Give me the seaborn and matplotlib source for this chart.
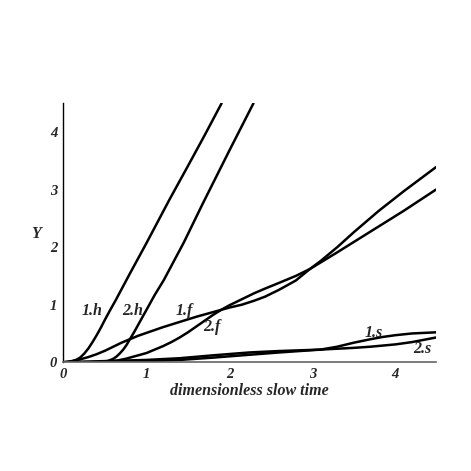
import matplotlib
matplotlib.use("Agg")
import matplotlib.pyplot as plt
import seaborn as sns
import pandas as pd

# ---- data ----
h1_x = [0, 0.05, 0.1, 0.15, 0.2, 0.25, 0.3, 0.35, 0.4, 0.45, 0.5, 0.56, 0.63, 0.8, 1.0, 1.275, 1.5, 1.7, 1.906]
h1_y = [0, 0.003, 0.015, 0.04, 0.08, 0.15, 0.24, 0.35, 0.47, 0.6, 0.74, 0.9, 1.08, 1.54, 2.07, 2.82, 3.41, 3.94, 4.5]

h2_x = [0, 0.45, 0.5, 0.55, 0.6, 0.64, 0.68, 0.72, 0.76, 0.8, 0.85, 0.9, 0.95, 1.0, 1.1, 1.21, 1.45, 1.68, 2.0, 2.29]
h2_y = [0, 0, 0.01, 0.03, 0.06, 0.1, 0.155, 0.22, 0.3, 0.40, 0.52, 0.65, 0.78, 0.91, 1.17, 1.43, 2.08, 2.76, 3.68, 4.5]

f1_x = [0, 0.1, 0.2, 0.3, 0.4, 0.5, 0.6, 0.7, 0.8, 0.9, 1.0, 1.2, 1.4, 1.6, 1.8, 1.9, 2.0, 2.15,
        2.3, 2.43, 2.6, 2.8, 2.97, 3.1, 3.3, 3.5, 3.8, 4.1, 4.49]
f1_y = [0, 0.02, 0.05, 0.09, 0.14, 0.2, 0.27, 0.34, 0.40, 0.46, 0.51, 0.61, 0.70, 0.79, 0.87, 0.91, 0.95, 1.00,
        1.07, 1.14, 1.26, 1.42, 1.62, 1.76, 2.0, 2.26, 2.63, 2.97, 3.39]

f2_x = [0, 0.45, 0.55, 0.65, 0.75, 0.85, 1.0, 1.1, 1.2, 1.3, 1.4, 1.5, 1.6, 1.7, 1.8, 1.9, 2.0, 2.1,
        2.2, 2.3, 2.43, 2.6, 2.8, 2.97, 3.3, 3.7, 4.1, 4.49]
f2_y = [0, 0, 0.01, 0.03, 0.06, 0.1, 0.16, 0.22, 0.28, 0.35, 0.43, 0.52, 0.62, 0.72, 0.82, 0.91, 0.99, 1.06,
        1.13, 1.20, 1.28, 1.38, 1.50, 1.62, 1.91, 2.27, 2.63, 3.0]

s1_x = [0, 0.5, 1.0, 1.4, 1.8, 2.24, 2.6, 2.9, 3.1, 3.3, 3.5, 3.7, 3.85, 4.0, 4.2, 4.49]
s1_y = [0, 0.005, 0.02, 0.04, 0.08, 0.13, 0.17, 0.2, 0.22, 0.27, 0.34, 0.40, 0.44, 0.47, 0.50, 0.52]

s2_x = [0, 0.5, 1.0, 1.4, 1.8, 2.24, 2.6, 2.9, 3.1, 3.3, 3.5, 3.7, 3.85, 4.0, 4.2, 4.49]
s2_y = [0, 0.02, 0.04, 0.07, 0.12, 0.17, 0.195, 0.21, 0.22, 0.235, 0.25, 0.27, 0.29, 0.31, 0.35, 0.43]

curve_names = ["1.h", "2.h", "1.f", "2.f", "1.s", "2.s"]
label_x = [0.35, 0.83, 1.46, 1.79, 3.74, 4.33]
label_y = [0.89, 0.89, 0.89, 0.61, 0.51, 0.23]

x_ticks = [0, 1, 2, 3, 4]
y_ticks = [0, 1, 2, 3, 4]

frames = []
for name, xs, ys in zip(curve_names,
                        [h1_x, h2_x, f1_x, f2_x, s1_x, s2_x],
                        [h1_y, h2_y, f1_y, f2_y, s1_y, s2_y]):
    frames.append(pd.DataFrame({"t": xs, "Y": ys, "curve": name}))
df = pd.concat(frames, ignore_index=True)

sns.set_style("white")
plt.rcParams["font.family"] = ["Liberation Serif", "DejaVu Serif"]

fig = plt.figure(figsize=(4.71, 4.71), dpi=100)
ax = fig.add_axes([0.1348, 0.2309, 0.7909, 0.5499])

for name in curve_names:
    sub = df[df["curve"] == name]
    sns.lineplot(data=sub, x="t", y="Y", ax=ax, color="black", lw=1.8,
                 sort=False, estimator=None, legend=False)

font = dict(fontweight="bold", fontstyle="italic", fontsize=11.5)
tick_font = dict(fontweight="bold", fontstyle="italic", fontsize=10.5)
for name, lx, ly in zip(curve_names, label_x, label_y):
    ax.text(lx, ly, name, ha="center", va="center", **font)

ax.set_xlim(0, 4.49)
ax.set_ylim(0, 4.5)
ax.set_xticks(x_ticks)
ax.set_yticks(y_ticks)
ax.set_xticklabels([str(v) for v in x_ticks], **tick_font)
ax.set_yticklabels([str(v) for v in y_ticks], **tick_font)
ax.tick_params(axis="both", direction="out", length=2, width=0.6, color="#777777", pad=2.5)

for side in ["top", "right"]:
    ax.spines[side].set_visible(False)
ax.spines["left"].set_color("black")
ax.spines["left"].set_linewidth(1.0)
ax.spines["bottom"].set_color("#666666")
ax.spines["bottom"].set_linewidth(1.2)

ax.set_xlabel("dimensionless slow time", **font)
ax.xaxis.set_label_coords(0.50, -0.112)
ax.xaxis.label.set_va("center")
ax.set_ylabel("Y", rotation=0, **font)
ax.yaxis.set_label_coords(-0.074, 0.495)
ax.yaxis.label.set_va("center")
ax.yaxis.label.set_ha("center")

fig.savefig("out.png", dpi=100)
